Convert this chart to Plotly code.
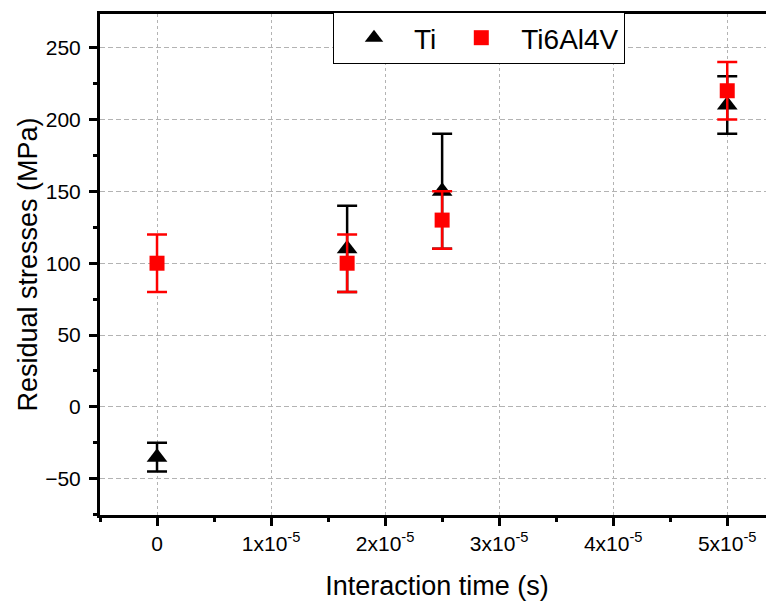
import plotly.graph_objects as go

# Data
x_ti = [0, 1.667e-5, 2.5e-5, 5e-5]
y_ti = [-35, 110, 150, 210]
err_ti = [10, 30, 40, 20]

x_tav = [0, 1.667e-5, 2.5e-5, 5e-5]
y_tav = [100, 100, 130, 220]
err_tav = [20, 20, 20, 20]

x_tickvals = [0, 1e-5, 2e-5, 3e-5, 4e-5, 5e-5]
x_ticktext = ["0", "1x10<sup>-5</sup>", "2x10<sup>-5</sup>", "3x10<sup>-5</sup>",
              "4x10<sup>-5</sup>", "5x10<sup>-5</sup>"]
x_minor = [-0.5e-5, 0.5e-5, 1.5e-5, 2.5e-5, 3.5e-5, 4.5e-5]
y_tickvals = [-50, 0, 50, 100, 150, 200, 250]
y_minor = [-75, -25, 25, 75, 125, 175, 225, 275]

FONT = "Liberation Sans, Arial, sans-serif"

fig = go.Figure()
fig.add_trace(go.Scatter(
    x=x_ti, y=y_ti, mode="markers", name="Ti",
    marker=dict(symbol="triangle-up", size=18, color="black"),
    error_y=dict(type="data", array=err_ti, color="black", thickness=2.5, width=10),
))
fig.add_trace(go.Scatter(
    x=x_tav, y=y_tav, mode="markers", name="Ti6Al4V",
    marker=dict(symbol="square", size=15, color="#ff0000"),
    error_y=dict(type="data", array=err_tav, color="#ff0000", thickness=2.5, width=10),
))

# the page adds an 8px body margin, so the figure is 8px smaller and margins shifted
fig.update_layout(
    width=766, height=593,
    margin=dict(l=92, r=0, t=6, b=86, autoexpand=False),
    paper_bgcolor="white", plot_bgcolor="white",
    font=dict(family=FONT, color="black"),
    legend=dict(
        orientation="h", x=0.3457, xanchor="left", y=1.004, yanchor="top",
        bgcolor="white", bordercolor="black", borderwidth=1,
        font=dict(size=28, family=FONT), itemwidth=70,
    ),
    showlegend=True,
)

fig.update_xaxes(
    range=[-0.5e-5, 5.41e-5], automargin=False,
    tickmode="array", tickvals=x_tickvals, ticktext=x_ticktext,
    tickfont=dict(size=21, family=FONT),
    ticks="outside", ticklen=8, tickwidth=3, tickcolor="black",
    minor=dict(tickmode="array", tickvals=x_minor, ticks="outside", ticklen=4,
               tickwidth=3, tickcolor="black", showgrid=False),
    showline=True, linewidth=3, linecolor="black", mirror=True,
    showgrid=True, gridcolor="#b3b3b3", gridwidth=1, griddash="3px,3px",
    zeroline=False,
    title=dict(text="Interaction time (s)", font=dict(size=27, family=FONT), standoff=22),
)
fig.update_yaxes(
    range=[-75.2, 273.4], automargin=False,
    tickmode="array", tickvals=y_tickvals,
    tickfont=dict(size=21, family=FONT), ticklabelstandoff=4,
    ticks="outside", ticklen=8, tickwidth=3, tickcolor="black",
    minor=dict(tickmode="array", tickvals=y_minor, ticks="outside", ticklen=4,
               tickwidth=3, tickcolor="black", showgrid=False),
    showline=True, linewidth=3, linecolor="black", mirror=False,
    showgrid=True, gridcolor="#b3b3b3", gridwidth=1, griddash="5px,3px",
    zeroline=False,
    title=dict(text="Residual stresses (MPa)", font=dict(size=27, family=FONT), standoff=0),
)

fig.write_html("out.html")
